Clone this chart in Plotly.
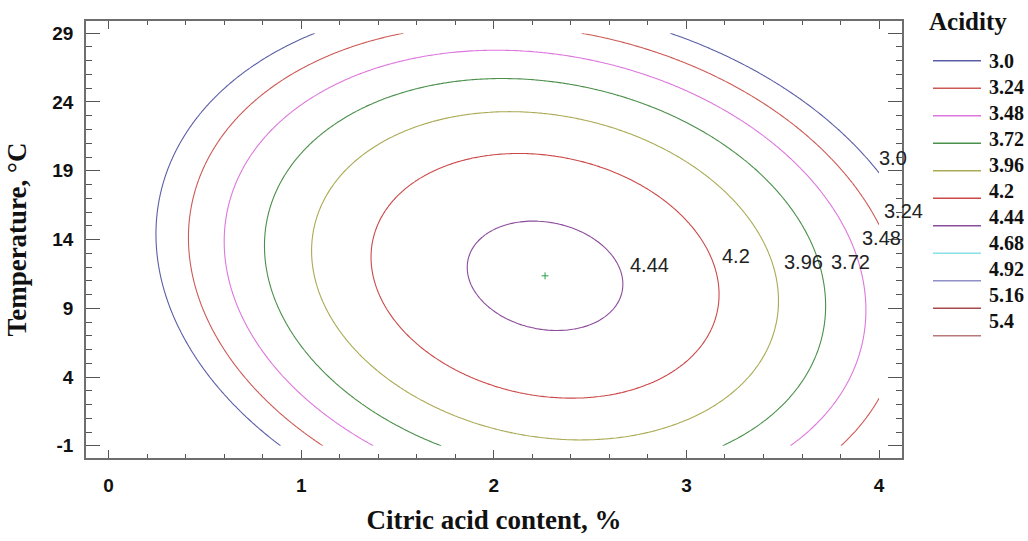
import numpy as np
import plotly.graph_objects as go

# ---------------- data ----------------
LEVELS = [3.0, 3.24, 3.48, 3.72, 3.96, 4.2, 4.44, 4.68, 4.92, 5.16, 5.4]
LEVEL_TEXT = ["3.0", "3.24", "3.48", "3.72", "3.96", "4.2", "4.44", "4.68", "4.92", "5.16", "5.4"]

# fitted second-order response surface: acidity vs citric acid (%) and temperature (°C)
PEAK_ACIDITY = 4.50
PEAK_CITRIC = 2.266
PEAK_TEMP = 11.36
CURV_CITRIC = 0.3764     # per %^2
CURV_TEMP = 0.00388      # per °C^2
CURV_CROSS = 0.01164     # per % * °C

CITRIC_DOMAIN = [0.0, 4.0]
TEMP_DOMAIN = [-1.0, 29.0]

X_TICKS = [0, 1, 2, 3, 4]
X_TICK_TEXT = ["0", "1", "2", "3", "4"]
Y_TICKS = [-1, 4, 9, 14, 19, 24, 29]
Y_TICK_TEXT = ["-1", "4", "9", "14", "19", "24", "29"]

# ---------------- styles / layout ----------------
LINE_COLORS = ["#5b5ea6", "#cc5a55", "#dd77dd", "#4a8f4a", "#aaaa55", "#cc4848",
               "#8c4c9c", "#88e0e8", "#9090c8", "#a84848", "#b87878"]
# temperature at which each labelled contour carries its label (label text -> °C)
LABEL_AT_TEMP = {"3.0": 19.9, "3.24": 16.05, "3.48": 14.1, "3.72": 12.4,
                 "3.96": 12.4, "4.2": 12.8, "4.44": 12.16}

W, H = 1028, 541
ML, MR, MT, MB = 86, 126, 21, 83
PW, PH = W - ML - MR, H - MT - MB


def px_to_paper(px, py):
    return (px - ML) / PW, (H - MB - py) / PH


def surface(x, y):
    dx = x - PEAK_CITRIC
    dy = y - PEAK_TEMP
    return PEAK_ACIDITY - (CURV_CITRIC * dx ** 2 + CURV_CROSS * dx * dy + CURV_TEMP * dy ** 2)


def right_crossing(level, y):
    dy = y - PEAK_TEMP
    a = CURV_CITRIC
    b = CURV_CROSS * dy
    c = CURV_TEMP * dy ** 2 - (PEAK_ACIDITY - level)
    disc = b * b - 4 * a * c
    return PEAK_CITRIC + (-b + np.sqrt(disc)) / (2 * a)


xg = np.linspace(CITRIC_DOMAIN[0], CITRIC_DOMAIN[1], 241)
yg = np.linspace(TEMP_DOMAIN[0], TEMP_DOMAIN[1], 241)
XX, YY = np.meshgrid(xg, yg)
ZZ = surface(XX, YY)

fig = go.Figure()

for lev, txt, col in zip(LEVELS, LEVEL_TEXT, LINE_COLORS):
    fig.add_trace(go.Contour(
        x=xg, y=yg, z=ZZ,
        name=txt,
        autocontour=False,
        contours=dict(start=lev, end=lev, size=1, coloring="lines", showlabels=False),
        colorscale=[[0, col], [1, col]],
        line=dict(width=1.1),
        showscale=False,
        showlegend=False,
        hoverinfo="skip",
    ))

# optimum point
fig.add_trace(go.Scatter(
    x=[PEAK_CITRIC], y=[PEAK_TEMP], mode="markers",
    marker=dict(symbol="cross-thin", size=5, line=dict(color="#2e9e4e", width=1)),
    showlegend=False, hoverinfo="skip",
))

annotations = []
# contour labels
for txt, t in LABEL_AT_TEMP.items():
    lev = LEVELS[LEVEL_TEXT.index(txt)]
    xc = min(right_crossing(lev, t), CITRIC_DOMAIN[1])
    annotations.append(dict(
        x=xc, y=t, xref="x", yref="y", text=txt, showarrow=False,
        xanchor="left", yanchor="middle", xshift=10,
        font=dict(family="Liberation Sans Narrow, Arial Narrow, Liberation Sans", size=20, color="#222"),
    ))

# legend (drawn by hand so the line samples have the reference length)
shapes = []
lx, ly = px_to_paper(927, 21)
annotations.append(dict(
    x=lx, y=ly, xref="paper", yref="paper", text="Acidity", showarrow=False,
    xanchor="left", yanchor="middle",
    font=dict(family="Liberation Serif, Times New Roman, serif", size=25, color="#111", weight="bold"),
))
for i, (txt, col) in enumerate(zip(LEVEL_TEXT, LINE_COLORS)):
    x0, yl = px_to_paper(933, 60.7 + 27.5 * i)
    x1, _ = px_to_paper(981, 0)
    shapes.append(dict(type="line", xref="paper", yref="paper", x0=x0, x1=x1, y0=yl, y1=yl,
                       line=dict(color=col, width=1.5)))
    tx, ty = px_to_paper(987, 61 + 26 * i)
    annotations.append(dict(
        x=tx, y=ty, xref="paper", yref="paper", text=txt, showarrow=False,
        xanchor="left", yanchor="middle",
        font=dict(family="Liberation Serif, Times New Roman, serif", size=20, color="#111", weight="bold"),
    ))

axis_common = dict(
    showgrid=False, zeroline=False, showline=True, linecolor="#6e6e6e", linewidth=1.5,
    mirror="allticks", ticks="inside", tickcolor="#555", tickwidth=1.3,
    tickfont=dict(family="Liberation Sans, Arial, sans-serif", size=19, color="#111", weight="bold"),
)

fig.update_layout(
    width=W, height=H,
    margin=dict(l=ML, r=MR, t=MT, b=MB),
    paper_bgcolor="white", plot_bgcolor="white",
    showlegend=False,
    annotations=annotations,
    shapes=shapes,
    xaxis=dict(
        axis_common,
        range=[-0.117, 4.119], tickvals=X_TICKS, ticktext=X_TICK_TEXT, ticklen=8, ticklabelstandoff=9,
        minor=dict(dtick=0.2, tick0=0, ticks="inside", ticklen=4, tickcolor="#555", tickwidth=1),
        title=dict(text="Citric acid content, %", standoff=16,
                   font=dict(family="Liberation Serif, Times New Roman, serif", size=27,
                             color="#111", weight="bold")),
    ),
    yaxis=dict(
        axis_common,
        range=[-1.89, 29.89], tickvals=Y_TICKS, ticktext=Y_TICK_TEXT, ticklen=14, ticklabelstandoff=7,
        minor=dict(dtick=1, tick0=-1, ticks="inside", ticklen=6, tickcolor="#555", tickwidth=1),
        title=dict(text="Temperature, °C", standoff=18,
                   font=dict(family="Liberation Serif, Times New Roman, serif", size=27,
                             color="#111", weight="bold")),
    ),
)

fig.write_html("out.html")
